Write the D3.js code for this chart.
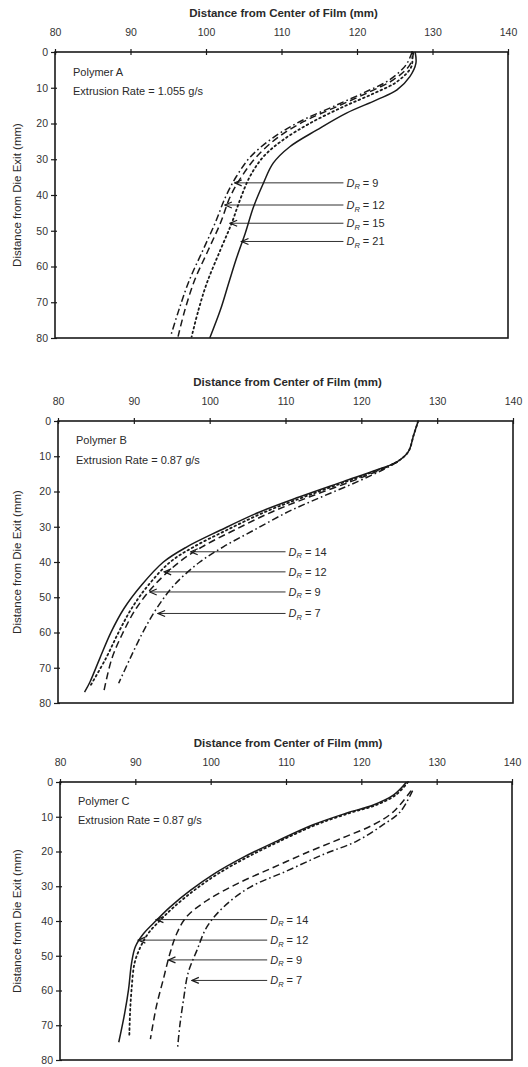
<!DOCTYPE html>
<html>
<head>
<meta charset="utf-8">
<script src="https://cdn.jsdelivr.net/npm/d3@7"></script>
<style>
  body { margin: 0; background: #fff; }
  svg { display: block; font-family: "Liberation Sans", Arial, sans-serif; }
</style>
</head>
<body>
<svg id="chart" width="528" height="1067"></svg>
<script>
// axis ticks shared by the three panels
var xTicks = [80, 90, 100, 110, 120, 130, 140];
var yTicks = [0, 10, 20, 30, 40, 50, 60, 70, 80];

// each curve is a list of [distance from die exit, distance from center]
// Polymer A
var aDR9  = [[0,127.3],[3.6,126.5],[7.8,124.3],[11.1,121.2],[15.3,116.8],[19.5,112.4],[24.1,108.8],[29.3,105.9],[34.9,104.0],[40.5,102.6],[47.9,101.2],[55.4,99.6],[63.8,97.8],[72.2,96.4],[79.6,95.3]];
var aDR12 = [[0,127.5],[3.6,127.0],[7.8,124.8],[11.1,121.7],[15.3,117.3],[19.5,112.9],[24.1,109.4],[29.3,106.7],[34.9,104.7],[40.5,103.2],[47.9,101.9],[55.4,100.3],[63.8,98.5],[72.2,97.2],[79.6,96.3]];
var aDR15 = [[0,127.3],[4.1,127.2],[8.3,125.3],[11.6,122.2],[15.3,118.2],[19.9,113.8],[24.6,110.2],[29.3,107.6],[34.9,105.8],[41.4,104.5],[47.9,103.4],[55.4,101.9],[64.7,100.1],[72.2,99.0],[79.6,98.1]];
var aDR21 = [[0,127.7],[3.2,127.8],[6.9,127.0],[10.6,125.3],[13.4,122.6],[17.1,118.6],[21.8,114.7],[26.5,111.1],[31.1,108.9],[36.7,107.6],[43.3,106.3],[50.7,105.2],[57.3,104.1],[64.7,103.0],[72.2,101.9],[80,100.5]];
var aLabels = ["9", "12", "15", "21"];
var aArrowDepth = [36.6, 42.8, 47.9, 53.0];
var aArrowTip = [103.8, 102.5, 103.2, 104.7];

// Polymer B
var bDR14 = [[0,127.5],[4,126.9],[8.7,126.2],[11.6,124.7],[13.9,122.0],[17.2,117.6],[21.5,111.9],[25.8,106.6],[31,101.4],[35.7,97.0],[40,93.9],[46.6,91.0],[53.2,88.7],[59.9,87.0],[67.4,85.5],[74.1,84.2],[76.9,83.5]];
var bDR12 = [[0,127.5],[4,126.9],[8.7,126.2],[11.6,124.7],[13.9,122.2],[17.2,118.0],[21.5,112.5],[25.8,107.3],[31,102.2],[35.7,97.9],[40,94.8],[46.6,91.9],[53.2,89.7],[59.9,88.0],[67.4,86.3],[75,84.3]];
var bDR9  = [[11.6,124.7],[13.9,122.5],[17.2,118.6],[21.5,113.2],[25.8,108.2],[31,103.2],[35.7,99.0],[40,96.0],[46.6,92.7],[53.2,90.3],[59.9,88.6],[67.4,87.1],[77.2,86.0]];
var bDR7  = [[11.6,124.8],[13.9,122.8],[17.2,119.5],[21.5,114.8],[25.8,110.3],[31,105.8],[35.7,101.8],[40,98.7],[46.6,95.3],[53.2,93.0],[59.9,91.2],[67.4,89.5],[74.4,88.0]];
var bLabels = ["14", "12", "9", "7"];
var bArrowDepth = [37.1, 42.8, 48.5, 54.6];
var bArrowTip = [97.5, 94.0, 92.1, 93.2];

// Polymer C
var cDR14 = [[0,126.0],[3.7,124.3],[6.6,121.6],[8.9,118.1],[12.3,113.6],[17,108.8],[21.7,104.3],[26.5,100.4],[31.2,97.3],[36,94.6],[39.8,92.8],[43.6,91.1],[47.4,90.0],[52.1,89.5],[59.7,89.1],[66.4,88.6],[74.9,87.8]];
var cDR12 = [[0,126.2],[3.7,124.6],[6.6,122.0],[8.9,118.5],[12.3,114.0],[17,109.2],[21.7,104.8],[26.5,100.9],[31.2,97.8],[36,95.1],[39.8,93.3],[43.6,91.7],[47.4,90.7],[52.1,89.9],[59.7,89.5],[66.4,89.3],[73,89.2]];
var cDR9  = [[2.5,126.6],[8.5,124.3],[12.3,121.6],[16,117.6],[19.9,113.2],[24.6,108.3],[29.3,103.5],[34.1,99.5],[38.8,96.8],[43.6,95.5],[49.3,94.6],[56.9,93.7],[64.5,92.8],[74,92.0]];
var cDR7  = [[2.5,126.8],[8.5,125.2],[12.3,122.9],[17,119.4],[20.8,115.0],[25.6,110.1],[30.3,105.2],[36,101.7],[41.7,99.5],[48.3,98.2],[55,97.0],[62.6,96.4],[70.2,95.9],[76.8,95.6]];
var cLabels = ["14", "12", "9", "7"];
var cArrowDepth = [39.6, 45.5, 51.2, 57.1];
var cArrowTip = [92.8, 90.4, 94.4, 97.5];

var dashes = {
    solid: null,
    dashed: "7,4",
    dotted: "1.6,3.2",
    dashdot: "7,3,1.6,3"
};

var panels = [
    {
        name: "Polymer A", rate: "Extrusion Rate = 1.055 g/s",
        box: {left: 55, right: 508, top: 52, bottom: 338},
        curves: [
            {data: aDR9, style: "dashdot"},
            {data: aDR12, style: "dashed"},
            {data: aDR15, style: "dotted"},
            {data: aDR21, style: "solid"}
        ],
        labels: aLabels, arrowDepth: aArrowDepth, arrowTip: aArrowTip, labelAt: 118.6
    },
    {
        name: "Polymer B", rate: "Extrusion Rate = 0.87 g/s",
        box: {left: 58, right: 513, top: 421, bottom: 703},
        curves: [
            {data: bDR14, style: "solid"},
            {data: bDR12, style: "dotted"},
            {data: bDR9, style: "dashed"},
            {data: bDR7, style: "dashdot"}
        ],
        labels: bLabels, arrowDepth: bArrowDepth, arrowTip: bArrowTip, labelAt: 110.4
    },
    {
        name: "Polymer C", rate: "Extrusion Rate = 0.87 g/s",
        box: {left: 60, right: 512, top: 782, bottom: 1060},
        curves: [
            {data: cDR14, style: "solid"},
            {data: cDR12, style: "dotted"},
            {data: cDR9, style: "dashed"},
            {data: cDR7, style: "dashdot"}
        ],
        labels: cLabels, arrowDepth: cArrowDepth, arrowTip: cArrowTip, labelAt: 107.9
    }
];

var svg = d3.select("#chart");
var ink = "#1a1a1a";

// open arrow head, pointing along the line's direction
svg.append("defs").append("marker")
    .attr("id", "arrow")
    .attr("viewBox", "-9 -5 10 10")
    .attr("refX", 0).attr("refY", 0)
    .attr("markerWidth", 10).attr("markerHeight", 10)
    .attr("markerUnits", "userSpaceOnUse")
    .attr("orient", "auto")
    .append("path")
    .attr("d", "M-7,-3L0,0L-7,3")
    .attr("fill", "none")
    .attr("stroke", ink)
    .attr("stroke-width", 1.2);

panels.forEach(function(p) {
    var b = p.box;
    var x = d3.scaleLinear().domain([80, 140]).range([b.left, b.right]);
    var y = d3.scaleLinear().domain([0, 80]).range([b.top, b.bottom]);
    var g = svg.append("g");

    // axis titles
    g.append("text")
        .attr("x", (b.left + b.right) / 2 + 2)
        .attr("y", b.top - 35)
        .attr("text-anchor", "middle")
        .style("font-size", "11.5px")
        .style("font-weight", "bold")
        .attr("fill", "#2a2a2a")
        .text("Distance from Center of Film (mm)");

    g.append("text")
        .attr("transform", "translate(21," + ((b.top + b.bottom) / 2) + ") rotate(-90)")
        .attr("text-anchor", "middle")
        .style("font-size", "11.5px")
        .attr("fill", "#2a2a2a")
        .text("Distance from Die Exit (mm)");

    // top axis
    var xAxis = g.append("g")
        .attr("transform", "translate(0," + b.top + ")")
        .call(d3.axisTop(x).tickValues(xTicks).tickSizeInner(3).tickSizeOuter(0).tickPadding(13));
    xAxis.selectAll(".tick line").attr("y2", 3).attr("y1", -3);

    // left axis
    var yAxis = g.append("g")
        .attr("transform", "translate(" + b.left + ",0)")
        .call(d3.axisLeft(y).tickValues(yTicks).tickSizeInner(4).tickSizeOuter(0).tickPadding(3));
    yAxis.selectAll(".tick line").attr("x1", 2);

    g.selectAll(".domain").remove();
    g.selectAll(".tick line").attr("stroke", ink).attr("stroke-width", 1.2);
    g.selectAll(".tick text")
        .attr("fill", "#333")
        .style("font-size", "10.5px")
        .style("font-family", "'Liberation Sans', Arial, sans-serif");

    // frame
    g.append("rect")
        .attr("x", b.left).attr("y", b.top)
        .attr("width", b.right - b.left).attr("height", b.bottom - b.top)
        .attr("fill", "none")
        .attr("stroke", ink)
        .attr("stroke-width", 1.6);

    // notes
    g.append("text")
        .attr("x", b.left + 18).attr("y", y(5.5) + 4)
        .style("font-size", "11px").attr("fill", "#2a2a2a")
        .text(p.name);
    g.append("text")
        .attr("x", b.left + 18).attr("y", y(11) + 4)
        .style("font-size", "11px").attr("fill", "#2a2a2a")
        .text(p.rate);

    // curves
    var line = d3.line()
        .x(function(d) { return x(d[1]); })
        .y(function(d) { return y(d[0]); })
        .curve(d3.curveCatmullRom.alpha(0.5));

    p.curves.forEach(function(c) {
        g.append("path")
            .datum(c.data)
            .attr("d", line)
            .attr("fill", "none")
            .attr("stroke", ink)
            .attr("stroke-width", c.style == "dotted" ? 1.8 : 1.5)
            .attr("stroke-linecap", c.style == "dotted" ? "round" : "butt")
            .attr("stroke-dasharray", dashes[c.style]);
    });

    // pointer arrows and D_R labels
    p.labels.forEach(function(lab, i) {
        var yy = y(p.arrowDepth[i]);
        g.append("line")
            .attr("x1", x(p.labelAt) - 3).attr("y1", yy)
            .attr("x2", x(p.arrowTip[i])).attr("y2", yy)
            .attr("stroke", ink)
            .attr("stroke-width", 0.9)
            .attr("marker-end", "url(#arrow)");

        var t = g.append("text")
            .attr("x", x(p.labelAt)).attr("y", yy + 4)
            .style("font-size", "11px").attr("fill", "#2a2a2a");
        t.append("tspan").style("font-style", "italic").text("D");
        t.append("tspan").style("font-style", "italic").style("font-size", "7.5px").attr("dy", 2.5).text("R");
        t.append("tspan").attr("dy", -2.5).text(" = " + lab);
    });
});
</script>
</body>
</html>
